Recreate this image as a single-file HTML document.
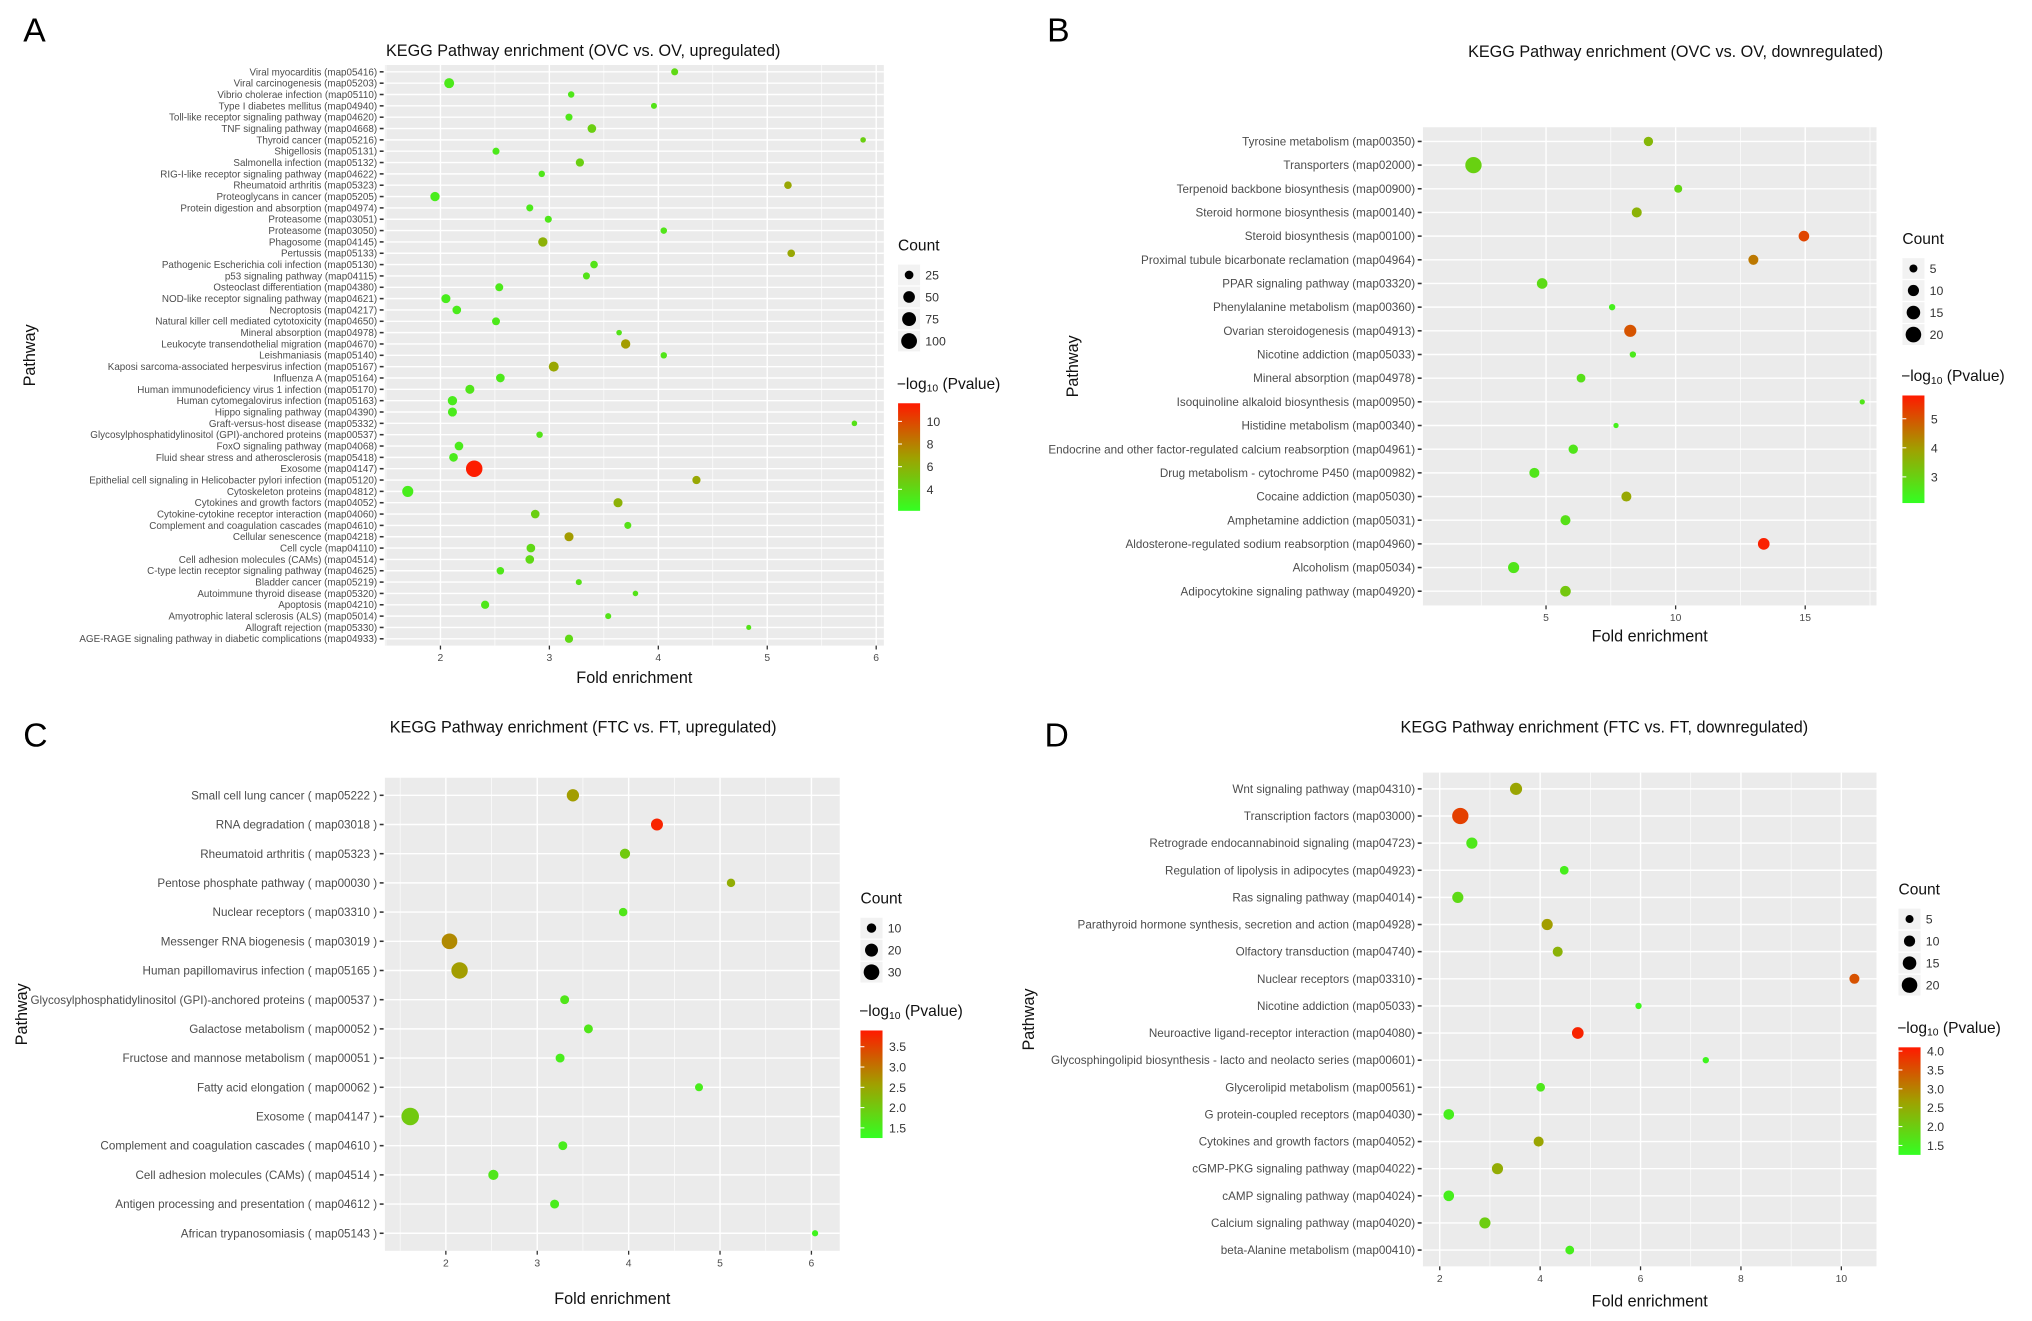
<!DOCTYPE html>
<html><head><meta charset="utf-8"><style>
html,body{margin:0;padding:0;background:#fff;}
svg{display:block;font-family:"Liberation Sans",Arial,sans-serif;}
</style></head><body>
<svg id="fig" width="2032" height="1321" viewBox="0 0 1568 1019" xmlns="http://www.w3.org/2000/svg">
<defs>
<linearGradient id="pgrad" x1="0" y1="1" x2="0" y2="0">
<stop offset="0" stop-color="#33ff22"/><stop offset="0.5" stop-color="#a0a000"/><stop offset="1" stop-color="#ff1a00"/>
</linearGradient>
</defs>
</svg>
<script>
// ---------- Panel A data ----------
const aLabels=["Viral myocarditis (map05416)","Viral carcinogenesis (map05203)","Vibrio cholerae infection (map05110)","Type I diabetes mellitus (map04940)","Toll-like receptor signaling pathway (map04620)","TNF signaling pathway (map04668)","Thyroid cancer (map05216)","Shigellosis (map05131)","Salmonella infection (map05132)","RIG-I-like receptor signaling pathway (map04622)","Rheumatoid arthritis (map05323)","Proteoglycans in cancer (map05205)","Protein digestion and absorption (map04974)","Proteasome (map03051)","Proteasome (map03050)","Phagosome (map04145)","Pertussis (map05133)","Pathogenic Escherichia coli infection (map05130)","p53 signaling pathway (map04115)","Osteoclast differentiation (map04380)","NOD-like receptor signaling pathway (map04621)","Necroptosis (map04217)","Natural killer cell mediated cytotoxicity (map04650)","Mineral absorption (map04978)","Leukocyte transendothelial migration (map04670)","Leishmaniasis (map05140)","Kaposi sarcoma-associated herpesvirus infection (map05167)","Influenza A (map05164)","Human immunodeficiency virus 1 infection (map05170)","Human cytomegalovirus infection (map05163)","Hippo signaling pathway (map04390)","Graft-versus-host disease (map05332)","Glycosylphosphatidylinositol (GPI)-anchored proteins (map00537)","FoxO signaling pathway (map04068)","Fluid shear stress and atherosclerosis (map05418)","Exosome (map04147)","Epithelial cell signaling in Helicobacter pylori infection (map05120)","Cytoskeleton proteins (map04812)","Cytokines and growth factors (map04052)","Cytokine-cytokine receptor interaction (map04060)","Complement and coagulation cascades (map04610)","Cellular senescence (map04218)","Cell cycle (map04110)","Cell adhesion molecules (CAMs) (map04514)","C-type lectin receptor signaling pathway (map04625)","Bladder cancer (map05219)","Autoimmune thyroid disease (map05320)","Apoptosis (map04210)","Amyotrophic lateral sclerosis (ALS) (map05014)","Allograft rejection (map05330)","AGE-RAGE signaling pathway in diabetic complications (map04933)"];
const aFold=[4.15,2.08,3.20,3.96,3.18,3.39,5.88,2.51,3.28,2.93,5.19,1.95,2.82,2.99,4.05,2.94,5.22,3.41,3.34,2.54,2.05,2.15,2.51,3.64,3.70,4.05,3.04,2.55,2.27,2.11,2.11,5.80,2.91,2.17,2.12,2.31,4.35,1.70,3.63,2.87,3.72,3.18,2.83,2.82,2.55,3.27,3.79,2.41,3.54,4.83,3.18];
const aCount=[15,35,12,10,15,25,8,15,22,12,18,30,15,15,12,30,18,18,15,20,28,25,20,8,30,12,35,25,28,30,28,8,12,25,25,110,22,45,28,25,15,28,25,25,18,10,8,22,10,6,22];
const aPval=[4,3.2,3.3,3.5,3.3,4.5,4.5,3.2,4.5,3.3,6.5,3.0,3.2,3.3,3.4,6,6.5,3.5,3.5,3.2,3.0,3.1,3.2,3.5,7,3.4,6.5,3.2,3.4,3.1,3.1,3.6,3.5,3.1,3.1,11.5,6.5,3.0,6,4.5,3.6,7,4,4,3.3,3.6,3.5,3.3,3.5,3.5,4];
const aXTicks=[2,3,4,5,6];
const aCountTicks=[25,50,75,100];
const aPTicks=[4,6,8,10];
// ---------- Panel B data ----------
const bLabels=["Tyrosine metabolism (map00350)","Transporters (map02000)","Terpenoid backbone biosynthesis (map00900)","Steroid hormone biosynthesis (map00140)","Steroid biosynthesis (map00100)","Proximal tubule bicarbonate reclamation (map04964)","PPAR signaling pathway (map03320)","Phenylalanine metabolism (map00360)","Ovarian steroidogenesis (map04913)","Nicotine addiction (map05033)","Mineral absorption (map04978)","Isoquinoline alkaloid biosynthesis (map00950)","Histidine metabolism (map00340)","Endocrine and other factor-regulated calcium reabsorption (map04961)","Drug metabolism - cytochrome P450 (map00982)","Cocaine addiction (map05030)","Amphetamine addiction (map05031)","Aldosterone-regulated sodium reabsorption (map04960)","Alcoholism (map05034)","Adipocytokine signaling pathway (map04920)"];
const bFold=[8.95,2.2,10.1,8.5,14.95,13.0,4.85,7.55,8.25,8.35,6.35,17.2,7.7,6.05,4.55,8.1,5.75,13.4,3.75,5.75];
const bCount=[7,22,5,8,9,8,9,3,12,3,6,2,2,7,8,8,8,11,10,9];
const bPval=[3.5,3.0,2.9,3.6,5.2,4.5,2.8,2.4,5.0,2.5,2.7,2.6,2.4,2.6,2.6,3.8,2.7,5.7,2.6,3.2];
const bXTicks=[5,10,15];
const bCountTicks=[5,10,15,20];
const bPTicks=[3,4,5];
// ---------- Panel C data ----------
const cLabels=["Small cell lung cancer ( map05222 )","RNA degradation ( map03018 )","Rheumatoid arthritis ( map05323 )","Pentose phosphate pathway ( map00030 )","Nuclear receptors ( map03310 )","Messenger RNA biogenesis ( map03019 )","Human papillomavirus infection ( map05165 )","Glycosylphosphatidylinositol (GPI)-anchored proteins ( map00537 )","Galactose metabolism ( map00052 )","Fructose and mannose metabolism ( map00051 )","Fatty acid elongation ( map00062 )","Exosome ( map04147 )","Complement and coagulation cascades ( map04610 )","Cell adhesion molecules (CAMs) ( map04514 )","Antigen processing and presentation ( map04612 )","African trypanosomiasis ( map05143 )"];
const cFold=[3.39,4.31,3.96,5.12,3.94,2.04,2.15,3.30,3.56,3.25,4.77,1.61,3.28,2.52,3.19,6.04];
const cCount=[18,17,12,8,8,30,33,9,9,9,7,38,9,12,9,4];
const cPval=[2.6,3.8,2.0,2.4,1.6,2.8,2.6,1.6,1.6,1.5,1.5,2.0,1.5,1.6,1.5,1.4];
const cXTicks=[2,3,4,5,6];
const cCountTicks=[10,20,30];
const cPTicks=[1.5,2.0,2.5,3.0,3.5];
// ---------- Panel D data ----------
const dLabels=["Wnt signaling pathway (map04310)","Transcription factors (map03000)","Retrograde endocannabinoid signaling (map04723)","Regulation of lipolysis in adipocytes (map04923)","Ras signaling pathway (map04014)","Parathyroid hormone synthesis, secretion and action (map04928)","Olfactory transduction (map04740)","Nuclear receptors (map03310)","Nicotine addiction (map05033)","Neuroactive ligand-receptor interaction (map04080)","Glycosphingolipid biosynthesis - lacto and neolacto series (map00601)","Glycerolipid metabolism (map00561)","G protein-coupled receptors (map04030)","Cytokines and growth factors (map04052)","cGMP-PKG signaling pathway (map04022)","cAMP signaling pathway (map04024)","Calcium signaling pathway (map04020)","beta-Alanine metabolism (map00410)"];
const dFold=[3.52,2.41,2.64,4.48,2.36,4.14,4.35,10.26,5.96,4.75,7.30,4.01,2.18,3.97,3.15,2.18,2.90,4.59];
const dCount=[12,22,10,6,10,10,8,8,3,11,3,6,9,8,10,9,10,6];
const dPval=[2.6,3.7,1.6,1.5,1.8,2.7,2.4,3.5,1.4,4.0,1.4,1.6,1.5,2.6,2.5,1.5,2.0,1.5];
const dXTicks=[2,4,6,8,10];
const dCountTicks=[5,10,15,20];
const dPTicks=[1.5,2.0,2.5,3.0,3.5,4.0];

const NS="http://www.w3.org/2000/svg";
const svg=document.getElementById('fig');
function mk(tag,attrs,parent){const e=document.createElementNS(NS,tag);for(const k in attrs)e.setAttribute(k,attrs[k]);(parent||svg).appendChild(e);return e;}
function lerp(a,b,t){return Math.round(a+(b-a)*t);}
function pcol(t){t=Math.max(0,Math.min(1,t));let c0,c1,u;
 if(t<0.5){c0=[51,255,34];c1=[160,160,0];u=t/0.5;}else{c0=[160,160,0];c1=[255,26,0];u=(t-0.5)/0.5;}
 return `rgb(${lerp(c0[0],c1[0],u)},${lerp(c0[1],c1[1],u)},${lerp(c0[2],c1[2],u)})`;}

function panel(cfg){
 const g=mk('g',{});
 
 
 const {x0,x1,y0,y1,xmin,xmax}=cfg;
 const xs=v=>x0+(v-xmin)*(x1-x0)/(xmax-xmin);
 const n=cfg.labels.length;
 const sp=(y1-y0)/(n-1+1.2);
 const ys=i=>y0+0.6*sp+i*sp;
 const bg=mk('rect',{x:x0,y:y0,width:x1-x0,height:y1-y0,fill:'#ebebeb'},g);
 
 
 // minor grid
 const step=cfg.xticks[1]-cfg.xticks[0];
 for(let v=cfg.xticks[0]-step/2;v<=xmax;v+=step){if(v<xmin)continue;
  const l=mk('line',{x1:xs(v),x2:xs(v),y1:y0,y2:y1,stroke:'#fff','stroke-width':0.5},g);
  
  }
 cfg.xticks.forEach(v=>{
  const l=mk('line',{x1:xs(v),x2:xs(v),y1:y0,y2:y1,stroke:'#fff','stroke-width':1.1},g);
  
  
  const tk=mk('line',{x1:xs(v),x2:xs(v),y1:y1,y2:y1+3,stroke:'#333','stroke-width':1},g);
  
  
  const t=mk('text',{x:xs(v),y:y1+12,'font-size':cfg.tfs,'text-anchor':'middle',fill:'#4d4d4d'},g);
  t.textContent=String(v);
  
  
 });
 cfg.labels.forEach((lab,i)=>{
  const y=ys(i);
  const l=mk('line',{x1:x0,x2:x1,y1:y,y2:y,stroke:'#fff','stroke-width':1.1},g);
  
  
  const tk=mk('line',{x1:x0-4,x2:x0-1,y1:y,y2:y,stroke:'#333','stroke-width':1.2},g);
  
  
  const t=mk('text',{x:x0-6,y:y+cfg.lfs*0.35,'font-size':cfg.lfs,'text-anchor':'end',fill:'#4d4d4d'},g);
  t.textContent=lab;
  
  
 });
 const rs=c=>cfg.ra*Math.sqrt(c)+cfg.rb;
 const pt=p=>(p-cfg.pmin)/(cfg.pmax-cfg.pmin);
 cfg.fold.forEach((v,i)=>{
  const c=mk('circle',{cx:xs(v),cy:ys(i),r:rs(cfg.count[i]),fill:pcol(pt(cfg.pval[i]))},g);
  
  
 });
 // titles
 const tt=mk('text',{x:cfg.tx,y:cfg.ty,'font-size':12.5,'text-anchor':'middle',fill:'#111'},g);
 tt.textContent=cfg.title;
 
 
 const pl=mk('text',{x:cfg.lx,y:cfg.ly,'font-size':26,fill:'#000'},g);
 pl.textContent=cfg.letter;
 
 
 const xt=mk('text',{x:(x0+x1)/2,y:cfg.xty,'font-size':12.5,'text-anchor':'middle',fill:'#111'},g);
 xt.textContent='Fold enrichment';
 
 
 const yt=mk('text',{x:cfg.ytx,y:(y0+y1)/2,'font-size':12.5,'text-anchor':'middle',fill:'#111',transform:`rotate(-90 ${cfg.ytx} ${(y0+y1)/2})`},g);
 yt.textContent='Pathway';
 
 
 // count legend
 const L=cfg.legx;
 const ct=mk('text',{x:L,y:cfg.cty,'font-size':12,fill:'#111'},g);
 ct.textContent='Count';
 
 
 cfg.countTicks.forEach((c,i)=>{
  const y=cfg.cty+19+i*17;
  const k=mk('rect',{x:L,y:y-8,width:17,height:16,fill:'#f2f2f2'},g);
  
  
  const cc=mk('circle',{cx:L+8.5,cy:y,r:rs(c),fill:'#000'},g);
  
  
  const t=mk('text',{x:L+21,y:y+3.5,'font-size':9.5,fill:'#333'},g);
  t.textContent=String(c);
  
  
 });
 const pty=cfg.pty;
 const ptt=mk('text',{x:L-1,y:pty,'font-size':12,fill:'#111'},g);
 ptt.innerHTML='−log<tspan font-size="8" dy="2">10</tspan><tspan dy="-2"> (Pvalue)</tspan>';
 
 
 const by0=pty+11,bh=83;
 const bar=mk('rect',{x:L,y:by0,width:17,height:bh,fill:'url(#pgrad)'},g);
 
 
 cfg.pTicks.forEach(p=>{
  const y=by0+bh*(1-pt(p));
  const tk=mk('line',{x1:L,x2:L+3,y1:y,y2:y,stroke:'#fff','stroke-width':0.8},g);
  
  
  const t=mk('text',{x:L+22,y:y+3.5,'font-size':9.5,fill:'#333'},g);
  t.textContent=cfg.pfmt?p.toFixed(1):String(p);
  
  
 });
}

panel({name:'panel-a',letter:'A',lx:18,ly:32,title:'KEGG Pathway enrichment (OVC vs. OV, upregulated)',tx:450,ty:43,
 x0:297,x1:682,y0:50,y1:498,xmin:1.49,xmax:6.07,xticks:aXTicks,labels:aLabels,fold:aFold,count:aCount,pval:aPval,
 ra:0.55,rb:0.6,pmin:2.1,pmax:11.6,lfs:7.6,tfs:8,xty:527,ytx:27,legx:693,cty:193,pty:300,countTicks:aCountTicks,pTicks:aPTicks});
panel({name:'panel-b',letter:'B',lx:808,ly:32,title:'KEGG Pathway enrichment (OVC vs. OV, downregulated)',tx:1293,ty:44,
 x0:1098,x1:1448,y0:98,y1:467,xmin:0.25,xmax:17.75,xticks:bXTicks,labels:bLabels,fold:bFold,count:bCount,pval:bPval,
 ra:1.3,rb:0.2,pmin:2.1,pmax:5.8,lfs:9,tfs:8,xty:495,ytx:832,legx:1468,cty:188,pty:294,countTicks:bCountTicks,pTicks:bPTicks});
panel({name:'panel-c',letter:'C',lx:18,ly:576,title:'KEGG Pathway enrichment (FTC vs. FT, upregulated)',tx:450,ty:565,
 x0:297,x1:648,y0:600,y1:965,xmin:1.333,xmax:6.31,xticks:cXTicks,labels:cLabels,fold:cFold,count:cCount,pval:cPval,
 ra:1.05,rb:0.3,pmin:1.25,pmax:3.9,lfs:9,tfs:8,xty:1006,ytx:21,legx:664,cty:697,pty:784,countTicks:cCountTicks,pTicks:cPTicks,pfmt:true});
panel({name:'panel-d',letter:'D',lx:806,ly:576,title:'KEGG Pathway enrichment (FTC vs. FT, downregulated)',tx:1238,ty:565,
 x0:1098,x1:1448,y0:596,y1:977,xmin:1.665,xmax:10.7,xticks:dXTicks,labels:dLabels,fold:dFold,count:dCount,pval:dPval,
 ra:1.3,rb:0.2,pmin:1.25,pmax:4.1,lfs:9,tfs:8,xty:1008,ytx:798,legx:1465,cty:690,pty:797,countTicks:dCountTicks,pTicks:dPTicks,pfmt:true});
</script>
</body></html>
